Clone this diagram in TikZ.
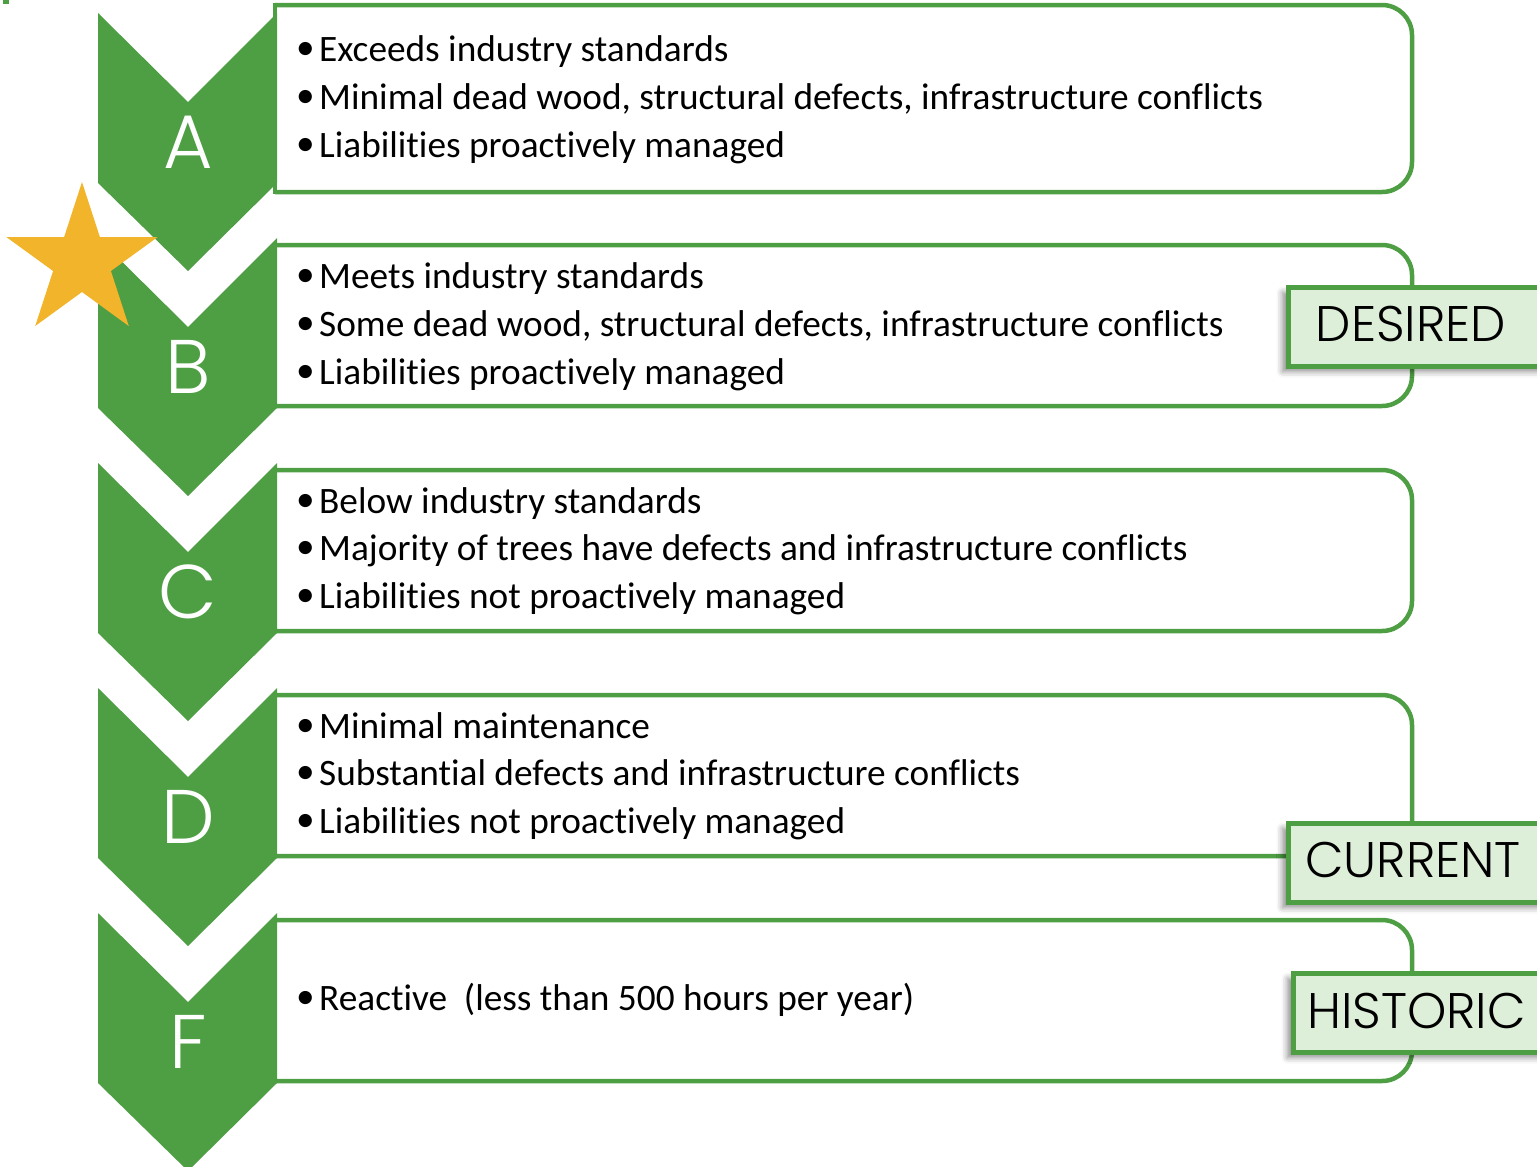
\documentclass[tikz,border=0pt]{standalone}
\usepackage{fontspec}
\setmainfont{Carlito}[Ligatures=CommonOff]
\newfontfamily\geo{Poppins Light}
\usetikzlibrary{shadows,shadows.blur}
\definecolor{grn}{RGB}{78,158,68}
\definecolor{gold}{RGB}{242,180,42}
\definecolor{lbl}{RGB}{221,239,216}
\newcommand\bulline[3]{%
  \node[bul] (#1b) at (305.5,{#2-10.5}) {•};
  \node[txt] (#1) at (319,#2) {#3};}
\begin{document}
\begin{tikzpicture}[x=1pt,y=-1pt,
  bul/.style={inner sep=0pt, font=\fontsize{37.3}{42}\selectfont},
  txt/.style={anchor=base west, inner sep=0pt, font=\fontsize{37.3}{42}\selectfont},
  boxln/.style={draw=grn, line width=4.5pt, rounded corners=30pt},
  letter/.style={inner sep=0pt, text=white, font=\geo\fontsize{76}{80}\selectfont},
  labbox/.style={draw=grn, fill=lbl, line width=5pt, anchor=north west, inner sep=0pt,
    blur shadow={shadow xshift=-6pt, shadow yshift=-5pt, shadow blur radius=6pt, shadow opacity=45}},
  labtxt/.style={inner sep=0pt, font=\geo\fontsize{50}{54}\selectfont}]
\useasboundingbox (0,0) rectangle (1537,1167);
\fill[grn] (3,0) rectangle (9,4);
% text boxes
\draw[boxln] (275,5) -- (1412,5) -- (1412,192) -- (275,192);
\draw[draw=grn, line width=4.5pt] (275,2.75) -- (275,194.25);
\foreach \t in {245,470,695,920}{
  \draw[boxln] (275,\t) -- (1412,\t) -- (1412,{\t+161}) -- (275,{\t+161});
}
% chevrons
\foreach \t in {13,238,463,688,913}{
  \fill[grn] (98,\t) -- (188,{\t+89}) -- (277,\t) -- (277,{\t+170}) -- (188,{\t+258}) -- (98,{\t+170}) -- cycle;
}
\node[letter] (la) at (188,142) {A};
\node[letter] (lb) at (188,367) {B};
\node[letter] (lc) at (188,592) {C};
\node[letter] (ld) at (188,817) {D};
\node[letter] (lf) at (188,1042) {F};
% star
\fill[gold] (82,182) \foreach \i in {1,...,10}{ -- ({82+(mod(\i,2)==1 ? 30.4 : 79.6)*sin(36*\i)},{261.6-(mod(\i,2)==1 ? 30.4 : 79.6)*cos(36*\i)}) } -- cycle;
% bullets
\bulline{a1}{61.5}{Exceeds industry standards}
\bulline{a2}{109.5}{Minimal dead wood, structural defects, infrastructure conflicts}
\bulline{a3}{157.5}{Liabilities proactively managed}
\bulline{b1}{288.5}{Meets industry standards}
\bulline{b2}{336.5}{Some dead wood, structural defects, infrastructure conflicts}
\bulline{b3}{384.5}{Liabilities proactively managed}
\bulline{c1}{513.5}{Below industry standards}
\bulline{c2}{560.5}{Majority of trees have defects and infrastructure conflicts}
\bulline{c3}{608.5}{Liabilities not proactively managed}
\bulline{d1}{738.5}{Minimal maintenance}
\bulline{d2}{785.5}{Substantial defects and infrastructure conflicts}
\bulline{d3}{833.5}{Liabilities not proactively managed}
\bulline{f1}{1010.5}{Reactive\ \ (less than 500 hours per year)}
% labels
\node[labbox, minimum width=280pt, minimum height=79pt] (desbox) at (1286,285) {};
\node[labtxt] (des) at (1411,323.5) {DESIRED};
\node[labbox, minimum width=280pt, minimum height=79pt] (curbox) at (1286,821) {};
\node[labtxt] (cur) at (1413,860) {CURRENT};
\node[labbox, minimum width=280pt, minimum height=79pt] (hisbox) at (1291,971) {};
\node[labtxt] (his) at (1416.5,1010.5) {HISTORIC};
\end{tikzpicture}
\end{document}
